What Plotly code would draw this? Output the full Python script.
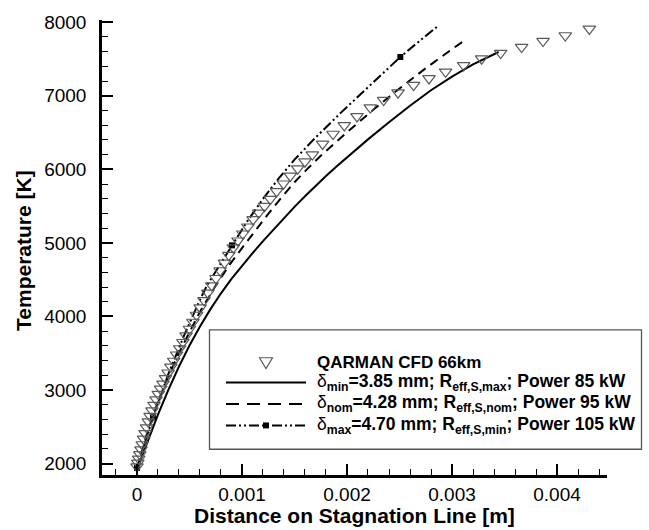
import plotly.graph_objects as go

# ---------------- data (x in m, T in K) ----------------
cfd_x_mm = [0.000, 0.008, 0.017, 0.027, 0.038, 0.050, 0.063, 0.077, 0.092, 0.108,
            0.125, 0.143, 0.162, 0.182, 0.203, 0.225, 0.248, 0.272, 0.297, 0.323,
            0.350, 0.378, 0.407, 0.437, 0.468, 0.500, 0.533, 0.567, 0.602, 0.638,
            0.675, 0.713, 0.752, 0.792, 0.833, 0.875, 0.918, 0.962, 1.008, 1.056,
            1.106, 1.160, 1.215, 1.270, 1.330, 1.395, 1.460, 1.530, 1.600, 1.670,
            1.768, 1.867, 1.974, 2.095, 2.222, 2.349, 2.486, 2.634, 2.781, 2.939,
            3.111, 3.282, 3.463, 3.663, 3.867, 4.079, 4.308]
cfd_T = [1960, 2010, 2065, 2125, 2190, 2260, 2335, 2410, 2490, 2570,
         2645, 2720, 2795, 2870, 2945, 3015, 3085, 3160, 3235, 3315,
         3395, 3480, 3565, 3650, 3740, 3830, 3925, 4020, 4120, 4220,
         4320, 4420, 4520, 4625, 4730, 4835, 4935, 5030, 5125, 5220,
         5320, 5410, 5500, 5596, 5700, 5805, 5911, 6010, 6105, 6202,
         6346, 6481, 6598, 6720, 6841, 6943, 7043, 7146, 7236, 7326,
         7415, 7505, 7582, 7663, 7744, 7820, 7910]

dmin_x_mm = [0.0, 0.1, 0.2, 0.3, 0.4, 0.5, 0.6, 0.7, 0.8, 0.9, 1.0, 1.1, 1.2, 1.3,
             1.4, 1.5, 1.6, 1.7, 1.8, 1.9, 2.0, 2.1, 2.2, 2.4, 2.6, 2.8, 3.0, 3.2, 3.444]
dmin_T = [1920, 2300, 2665, 3005, 3320, 3605, 3865, 4100, 4315, 4510, 4690, 4860, 5025, 5185,
          5340, 5490, 5635, 5775, 5910, 6040, 6165, 6288, 6408, 6642, 6866, 7076, 7262, 7428, 7596]

dnom_x_mm = [0.0, 0.05, 0.1, 0.2, 0.3, 0.4, 0.5, 0.6, 0.75, 0.875, 1.0, 1.125, 1.25,
             1.375, 1.5, 1.625, 1.75, 2.0, 2.25, 2.5, 2.75, 3.0, 3.136]
dnom_T = [1930, 2190, 2430, 2840, 3190, 3505, 3795, 4065, 4420, 4690, 4930, 5165, 5395,
          5615, 5825, 6010, 6185, 6505, 6810, 7100, 7375, 7635, 7771]

dmax_x_mm = [0.0, 0.152, 0.3, 0.45, 0.6, 0.67, 0.79, 0.905, 1.05, 1.2, 1.35, 1.5, 1.7,
             1.95, 2.15, 2.33, 2.508, 2.7, 2.857]
dmax_T = [1940, 2630, 3222, 3747, 4227, 4430, 4705, 4967, 5293, 5600, 5877, 6132, 6432,
          6782, 7052, 7286, 7528, 7757, 7938]
dmax_sym_x_mm = [0.0, 0.152, 0.905, 2.508]
dmax_sym_T = [1940, 2630, 4967, 7528]

x_ticks = [0, 0.001, 0.002, 0.003, 0.004]
x_ticklabels = ["0", "0.001", "0.002", "0.003", "0.004"]
y_ticks = [2000, 3000, 4000, 5000, 6000, 7000, 8000]
y_ticklabels = ["2000", "3000", "4000", "5000", "6000", "7000", "8000"]

legend_labels = [
    "<b>QARMAN CFD 66km</b>",
    "δ<b><sub>min</sub>=3.85 mm; R<sub>eff,S,max</sub>; Power 85 kW</b>",
    "δ<b><sub>nom</sub>=4.28 mm; R<sub>eff,S,nom</sub>; Power 95 kW</b>",
    "δ<b><sub>max</sub>=4.70 mm; R<sub>eff,S,min</sub>; Power 105 kW</b>",
]

def m(vals):
    return [v * 1e-3 for v in vals]

# ---------------- layout geometry ----------------
W, H = 649, 530
ML, MR, MT, MB = 102, 42, 16, 55
PW, PH = W - ML - MR, H - MT - MB
FONT = "Liberation Sans, Arial, Helvetica, sans-serif"
DASH_NOM = "9px,6px"
DASH_MAX = "10px,3px,2px,3px,2px,3px"

def px(x):
    return (x - ML) / PW

def py(y):
    return (H - MB - y) / PH

fig = go.Figure()

fig.add_trace(go.Scatter(x=m(dmin_x_mm), y=dmin_T, mode="lines",
                         line=dict(color="black", width=2), showlegend=False))
fig.add_trace(go.Scatter(x=m(dnom_x_mm), y=dnom_T, mode="lines",
                         line=dict(color="black", width=2, dash=DASH_NOM), showlegend=False))
fig.add_trace(go.Scatter(x=m(dmax_x_mm), y=dmax_T, mode="lines",
                         line=dict(color="black", width=2, dash=DASH_MAX), showlegend=False))
fig.add_trace(go.Scatter(x=m(dmax_sym_x_mm), y=dmax_sym_T, mode="markers",
                         marker=dict(symbol="square", size=6, color="black"), showlegend=False))
fig.add_trace(go.Scatter(x=m(cfd_x_mm), y=cfd_T, mode="markers",
                         marker=dict(symbol="triangle-down-open", size=11,
                                     color="#5a5a5a", line=dict(width=1.2, color="#5a5a5a")),
                         showlegend=False))

# ---------------- manual legend ----------------
shapes = []
shapes.append(dict(type="rect", xref="paper", yref="paper",
                   x0=px(209.5), x1=px(641.5), y0=py(449), y1=py(328.5),
                   line=dict(color="#555", width=1.3), fillcolor="white", layer="above"))
row_y = [361.7, 381.7, 403.3, 425.0]
sx0, sx1 = 226, 306
# triangle sample
tcx, tcy = 266, row_y[0]
shapes.append(dict(type="path", xref="paper", yref="paper",
                   path="M {} {} L {} {} L {} {} Z".format(px(tcx - 6.5), py(tcy - 5),
                                                          px(tcx + 6.5), py(tcy - 5),
                                                          px(tcx), py(tcy + 6)),
                   line=dict(color="#5a5a5a", width=1.2), layer="above"))
shapes.append(dict(type="line", xref="paper", yref="paper", x0=px(sx0), x1=px(sx1),
                   y0=py(row_y[1]), y1=py(row_y[1]), line=dict(color="black", width=2), layer="above"))
shapes.append(dict(type="line", xref="paper", yref="paper", x0=px(sx0), x1=px(sx1),
                   y0=py(row_y[2]), y1=py(row_y[2]),
                   line=dict(color="black", width=2, dash="13px,8px"), layer="above"))
shapes.append(dict(type="line", xref="paper", yref="paper", x0=px(sx0), x1=px(sx1),
                   y0=py(row_y[3]), y1=py(row_y[3]),
                   line=dict(color="black", width=2, dash=DASH_MAX), layer="above"))
shapes.append(dict(type="rect", xref="paper", yref="paper",
                   x0=px(263), x1=px(269), y0=py(row_y[3] + 3), y1=py(row_y[3] - 3),
                   line=dict(width=0), fillcolor="black", layer="above"))

annotations = []
for i, (lab, yy) in enumerate(zip(legend_labels, row_y)):
    annotations.append(dict(text=lab, xref="paper", yref="paper", x=px(315), y=py(yy),
                            xanchor="left", yanchor="middle", showarrow=False,
                            font=dict(family=FONT, size=17 if i == 0 else 17.5, color="black")))

annotations.append(dict(text="<b>Distance on Stagnation Line [m]</b>", xref="paper", yref="paper",
                        x=px(354), y=py(516), xanchor="center", yanchor="middle", showarrow=False,
                        font=dict(family=FONT, size=21, color="black")))
annotations.append(dict(text="<b>Temperature [K]</b>", xref="paper", yref="paper",
                        x=px(24), y=py(249), xanchor="center", yanchor="middle", showarrow=False,
                        textangle=-90, font=dict(family=FONT, size=21, color="black")))

fig.update_layout(
    width=W, height=H,
    margin=dict(l=ML, r=MR, t=MT, b=MB),
    paper_bgcolor="white", plot_bgcolor="white",
    font=dict(family=FONT, size=19, color="black"),
    shapes=shapes, annotations=annotations,
    showlegend=False,
)
fig.update_xaxes(range=[-0.000333, 0.004476], showgrid=False, zeroline=False,
                 showline=True, linecolor="black", linewidth=2.5,
                 tickmode="array", tickvals=x_ticks, ticktext=x_ticklabels,
                 ticks="inside", ticklen=11, tickwidth=2, tickcolor="black",
                 minor=dict(ticks="inside", ticklen=6, tickwidth=1, tickcolor="black",
                            tickmode="linear", tick0=0, dtick=0.0002),
                 tickfont=dict(size=19), mirror=False)
fig.update_yaxes(range=[1845, 8031], showgrid=False, zeroline=False,
                 showline=True, linecolor="black", linewidth=2.5,
                 tickmode="array", tickvals=y_ticks, ticktext=y_ticklabels,
                 ticks="inside", ticklen=11, tickwidth=2, tickcolor="black",
                 ticklabelstandoff=9,
                 minor=dict(ticks="inside", ticklen=6, tickwidth=1, tickcolor="black",
                            tickmode="linear", tick0=0, dtick=200),
                 tickfont=dict(size=19), mirror=False)

fig.write_html("out.html")
